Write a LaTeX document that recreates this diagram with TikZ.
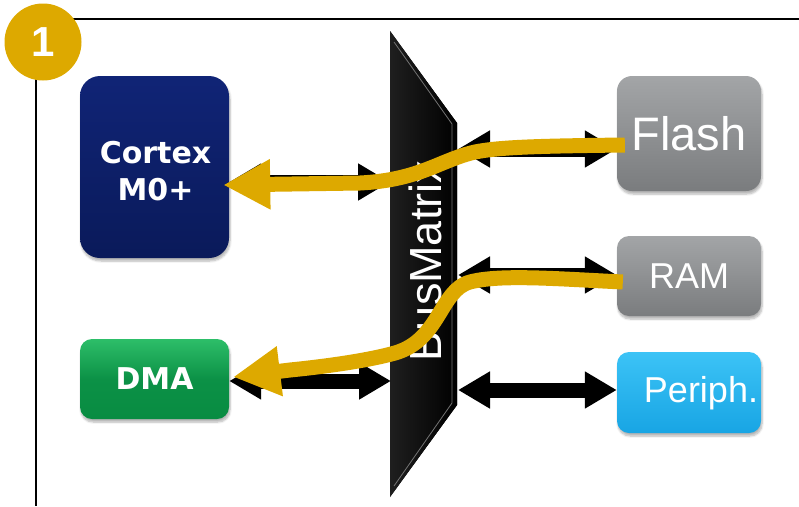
\documentclass[tikz,border=0pt]{standalone}
\usepackage{fontspec}
\setmainfont{Liberation Sans}
\newfontfamily\dejavu{DejaVu Sans}
\usetikzlibrary{arrows.meta,shadows.blur}
\definecolor{gold}{RGB}{221,169,0}
\definecolor{navytop}{RGB}{16,36,118}
\definecolor{navybot}{RGB}{10,26,90}
\definecolor{greentop}{RGB}{45,190,105}
\definecolor{greenbot}{RGB}{8,140,66}
\definecolor{graytop}{RGB}{163,165,167}
\definecolor{graybot}{RGB}{122,124,126}
\definecolor{bluetop}{RGB}{60,195,246}
\definecolor{bluebot}{RGB}{24,165,228}
\tikzset{
  unitbox/.style={rectangle, inner sep=0pt, text=white,
    blur shadow={shadow blur steps=6, shadow xshift=1pt, shadow yshift=-3pt, shadow opacity=30}},
  blackarrow/.style={line width=15pt, {Triangle[length=32pt,width=35pt]}-{Triangle[length=32pt,width=35pt]}},
  goldarrow/.style={draw=gold, line width=15pt, -{Triangle[length=47pt,width=47pt]}},
  bigtext/.style={font=\fontsize{#1}{#1}\selectfont},
  boldtext/.style={font=\dejavu\bfseries\fontsize{#1}{37}\selectfont}
}
\begin{document}
\begin{tikzpicture}[x=1pt,y=-1pt]
\useasboundingbox (0,0) rectangle (799,506);
% frame
\draw[line width=2.2pt] (70,19) -- (799,19);
\draw[line width=2.2pt] (36,70) -- (36,506);
\node[circle, fill=gold, minimum size=77pt, inner sep=0pt, text=white,
  font=\bfseries\fontsize{42}{42}\selectfont] (badge) at (43,42) {1};

% bus matrix
\fill[left color=black!88, right color=black] (390,31) -- (457,123) -- (457,405) -- (390,497) -- cycle;
\draw[black!55, line width=0.8pt] (394,42) -- (452,124) -- (452,403) -- (394,486);
\node[rotate=90, anchor=base, text=white, bigtext=45] (bmtext) at (441,261) {BusMatrix};
\coordinate (bmL1) at (390,182);
\coordinate (bmL2) at (391,381);
\coordinate (bmR1) at (458,149);
\coordinate (bmR2) at (458,275);
\coordinate (bmR3) at (458,390);

% masters
\node[unitbox, rounded corners=20pt, top color=navytop, bottom color=navybot,
  minimum width=149pt, minimum height=182pt] (cortex) at (154.5,167) {};
\node[text=white, align=center, boldtext=30, inner sep=0pt] (cortextext) at (155.5,171) {Cortex\\M0+};
\node[unitbox, rounded corners=12pt, top color=greentop, bottom color=greenbot, middle color=greenbot!90!greentop,
  minimum width=149pt, minimum height=80pt, boldtext=30] (dma) at (154.5,379) {DMA};

% slaves
\node[unitbox, rounded corners=15pt, top color=graytop, bottom color=graybot,
  minimum width=144pt, minimum height=115pt, bigtext=47] (flash) at (689,133.5) {Flash};
\node[unitbox, rounded corners=12pt, top color=graytop, bottom color=graybot,
  minimum width=144pt, minimum height=80pt, bigtext=36] (ram) at (689,276) {RAM};
\node[unitbox, rounded corners=12pt, top color=bluetop, bottom color=bluebot,
  minimum width=144pt, minimum height=81pt] (periph) at (689,392.5) {};
\node[text=white, bigtext=36, inner sep=0pt] (periphtext) at (701,393) {Periph.};

% black bus arrows
\draw[blackarrow] (cortex.east |- bmL1) -- (bmL1);
\draw[blackarrow] (dma.east |- bmL2) -- (bmL2);
\draw[blackarrow] (bmR1) -- (flash.west |- bmR1);
\draw[blackarrow] (bmR2) -- (ram.west |- bmR2);
\draw[blackarrow] (bmR3) -- (periph.west |- bmR3);

% gold data paths
\draw[goldarrow] ([shift={(8,11.5)}]flash.west) .. controls (540,146) and (500,147) .. (475,152)
  .. controls (440,160) and (420,180) .. (360,183) -- ([shift={(-6,18)}]cortex.east);
\draw[goldarrow] ([shift={(6,6)}]ram.west) .. controls (560,279) and (500,274) .. (470,282)
  .. controls (440,290) and (440,340) .. (395,353) .. controls (370,360) and (330,366) .. (290,370)
  -- ([shift={(4,-2)}]dma.east);
\end{tikzpicture}
\end{document}
